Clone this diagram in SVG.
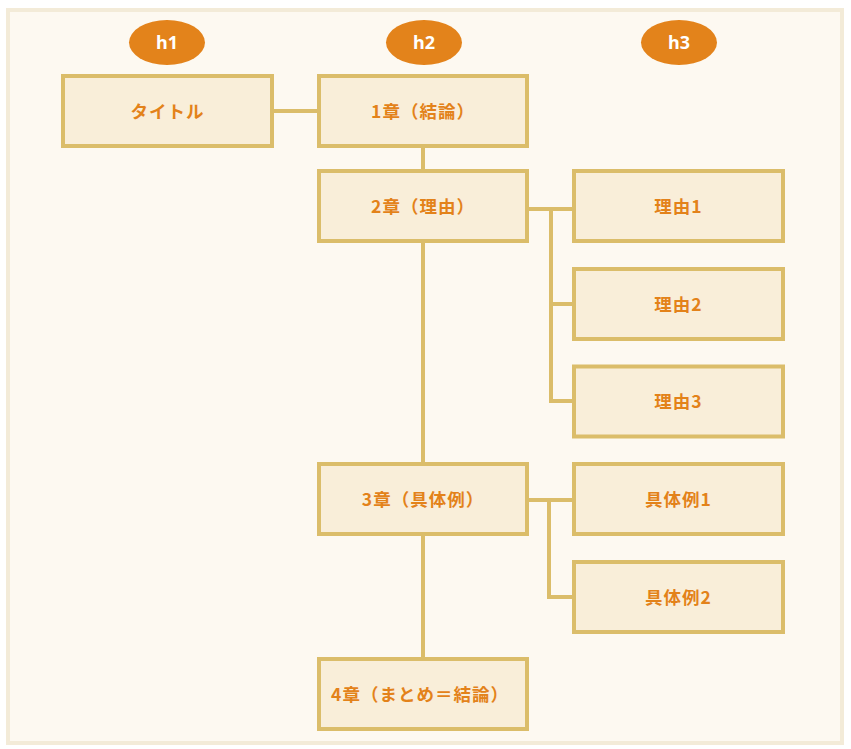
<svg xmlns="http://www.w3.org/2000/svg" width="851" height="749" viewBox="0 0 851 749">
<style>
.frame{fill:#fdf9f1;stroke:#f3ebd8;stroke-width:4}
.box{fill:#f9eed9;stroke:#dbbd6a;stroke-width:4}
.lbl{fill:#e3821a;font-family:"Noto Sans CJK JP","Noto Sans",sans-serif;font-weight:bold;font-size:17.5px;text-anchor:middle;letter-spacing:1px}
.hd{fill:#e3831b}
.hdt{fill:#ffffff;font-family:"Noto Sans","DejaVu Sans",sans-serif;font-weight:bold;font-size:18px;text-anchor:middle}
.con{fill:none;stroke:#dbbd6a;stroke-width:4}
</style>
<rect x="0" y="0" width="851" height="749" fill="#ffffff"/>
<rect class="frame" x="8" y="10" width="834" height="733"/>
<g id="headers">
<g id="h1"><ellipse class="hd" cx="167" cy="42.5" rx="38" ry="22.5"/><text class="hdt" x="167" y="49">h1</text></g>
<g id="h2"><ellipse class="hd" cx="424" cy="42.5" rx="38" ry="22.5"/><text class="hdt" x="424" y="49">h2</text></g>
<g id="h3"><ellipse class="hd" cx="679" cy="42.5" rx="38" ry="22.5"/><text class="hdt" x="679" y="49">h3</text></g>
</g>
<g id="connectors">
<path class="con" d="M272 111H319"/>
<path class="con" d="M423 146V171"/>
<path class="con" d="M423 241V464"/>
<path class="con" d="M423 534V659"/>
<path class="con" d="M527 209H574"/>
<path class="con" d="M551 209V401H574"/>
<path class="con" d="M551 304H574"/>
<path class="con" d="M527 500H574"/>
<path class="con" d="M549 500V597H574"/>
</g>
<g id="title"><rect class="box" x="63" y="76" width="209" height="70"/><text class="lbl" x="167.5" y="117.5">タイトル</text></g>
<g id="ch1"><rect class="box" x="319" y="76" width="208" height="70"/><text class="lbl" x="423" y="117.5">1章（結論）</text></g>
<g id="ch2"><rect class="box" x="319" y="171" width="208" height="70"/><text class="lbl" x="423" y="212.5">2章（理由）</text></g>
<g id="r1"><rect class="box" x="574" y="171" width="209" height="70"/><text class="lbl" x="678.5" y="212.5">理由1</text></g>
<g id="r2"><rect class="box" x="574" y="269" width="209" height="70"/><text class="lbl" x="678.5" y="310.5">理由2</text></g>
<g id="r3"><rect class="box" x="574" y="366.5" width="209" height="70"/><text class="lbl" x="678.5" y="408">理由3</text></g>
<g id="ch3"><rect class="box" x="319" y="464" width="208" height="70"/><text class="lbl" x="423" y="505.5">3章（具体例）</text></g>
<g id="e1"><rect class="box" x="574" y="464" width="209" height="70"/><text class="lbl" x="678.5" y="505.5">具体例1</text></g>
<g id="e2"><rect class="box" x="574" y="562" width="209" height="70"/><text class="lbl" x="678.5" y="603.5">具体例2</text></g>
<g id="ch4"><rect class="box" x="319" y="659" width="208" height="70"/><text class="lbl" x="420" y="700.5">4章（まとめ＝結論）</text></g>
</svg>
